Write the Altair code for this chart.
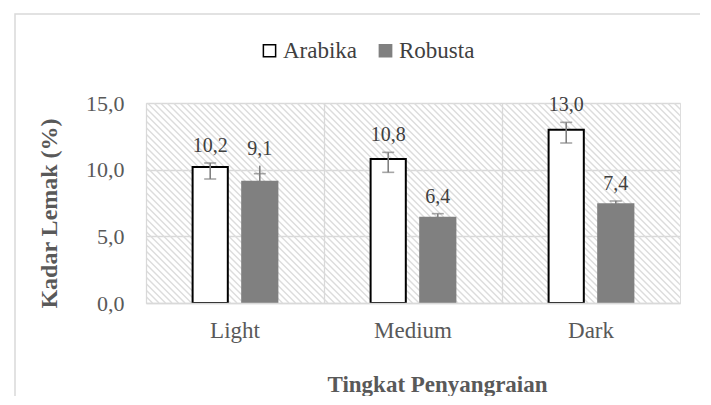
import altair as alt
import pandas as pd
import numpy as np

categories = ["Light", "Medium", "Dark"]
series = ["Arabika", "Robusta"]
arabika = [10.2, 10.8, 13.0]
robusta = [9.1, 6.4, 7.4]
arabika_err_low = [9.3, 9.8, 12.0]
arabika_err_high = [10.5, 11.3, 13.55]
robusta_err_low = [9.1, 6.4, 7.4]
robusta_err_high = [10.3, 6.7, 7.65]
arabika_caps = [[9.3, 10.5], [9.8, 11.3], [12.0, 13.55]]
robusta_caps = [[9.7], [6.7], [7.65]]

FONT = "'Liberation Serif', 'Times New Roman', Times, 'DejaVu Serif', serif"
GRID = "#d9d9d9"
GREY = "#808080"

rows = []
cap_rows = []
for i, c in enumerate(categories):
    rows.append(dict(cat=c, series="Arabika", value=arabika[i],
                     lo=arabika_err_low[i], hi=arabika_err_high[i]))
    rows.append(dict(cat=c, series="Robusta", value=robusta[i],
                     lo=robusta_err_low[i], hi=robusta_err_high[i]))
    for v in arabika_caps[i]:
        cap_rows.append(dict(cat=c, series="Arabika", cap=v))
    for v in robusta_caps[i]:
        cap_rows.append(dict(cat=c, series="Robusta", cap=v))
df = pd.DataFrame(rows)
df["label"] = df["value"].map(lambda v: f"{v:.1f}".replace(".", ","))
caps = pd.DataFrame(cap_rows)

# background hatch pattern (decoration, in plot-pixel units)
W, H = 534, 200
starts = np.arange(-H, W + 10, 6.5)
hatch = pd.DataFrame({"x1": starts, "x2": starts + H, "y1": H, "y2": 0})

hatch_layer = alt.Chart(hatch).mark_rule(clip=True, color="#dcdcdc", strokeWidth=1.4).encode(
    x=alt.X("x1:Q", scale=alt.Scale(domain=[0, W], nice=False, zero=False), axis=None),
    x2="x2:Q",
    y=alt.Y("y1:Q", scale=alt.Scale(domain=[0, H], nice=False, zero=False), axis=None),
    y2="y2:Q",
)

YT = "Kadar Lemak (%)"
XT = "Tingkat Penyangraian"

x_enc = alt.X(
    "cat:N", sort=categories, title=XT,
    scale=alt.Scale(paddingInner=0, paddingOuter=0),
    axis=alt.Axis(
        bandPosition=0, grid=True, gridColor=GRID, gridWidth=1.3,
        domain=True, domainColor=GRID, domainWidth=1.5, ticks=False,
        labelAngle=0, labelFont=FONT, labelFontSize=23, labelColor="#595959",
        labelPadding=16, titleFont=FONT, titleFontSize=23, titleFontWeight="bold",
        titleColor="#595959", titlePadding=31, titleX=291, zindex=1,
    ),
)
xo_enc = alt.XOffset("series:N", sort=series,
                     scale=alt.Scale(paddingInner=0.29, paddingOuter=0.94))
y_scale = alt.Scale(domain=[0, 15], nice=False, zero=True)
y_axis = alt.Axis(
    values=[0, 5, 10, 15],
    labelExpr="replace(format(datum.value, '.1f'), '.', ',')",
    grid=True, gridColor=GRID, gridWidth=1.3, domain=False, ticks=False,
    labelFont=FONT, labelFontSize=22, labelColor="#595959", labelPadding=22,
    titleFont=FONT, titleFontSize=24, titleFontWeight="bold", titleColor="#595959",
    titlePadding=24, titleY=110,
)

legend = alt.Legend(title=None, orient="none", legendX=112, legendY=-64,
                    direction="horizontal", symbolType="square",
                    symbolSize=150, symbolStrokeWidth=1.5,
                    labelFont=FONT, labelFontSize=23, labelColor="#404040",
                    columnPadding=16, labelOffset=2)

base = alt.Chart(df)

bars = base.mark_bar(strokeWidth=2).encode(
    x=x_enc, xOffset=xo_enc,
    y=alt.Y("value:Q", scale=y_scale, axis=y_axis, title=YT),
    fill=alt.Fill("series:N", sort=series,
                  scale=alt.Scale(domain=series, range=["#ffffff", GREY]),
                  legend=legend),
    stroke=alt.Stroke("series:N", sort=series,
                      scale=alt.Scale(domain=series, range=["#000000", GREY]),
                      legend=legend),
)

rules = base.mark_rule(color=GREY, strokeWidth=1.6).encode(
    x=x_enc, xOffset=xo_enc,
    y=alt.Y("lo:Q", scale=y_scale, title=YT),
    y2="hi:Q",
)

cap_ticks = alt.Chart(caps).mark_tick(color=GREY, size=12, thickness=1.6, orient="horizontal").encode(
    x=x_enc, xOffset=xo_enc,
    y=alt.Y("cap:Q", scale=y_scale, title=YT),
)

labels = base.mark_text(font=FONT, fontSize=20, color="#404040", baseline="bottom", dy=-7).encode(
    x=x_enc, xOffset=xo_enc,
    y=alt.Y("hi:Q", scale=y_scale, title=YT),
    text="label:N",
)

frame = alt.Chart(pd.DataFrame({"k": [0]})).mark_rect(
    fillOpacity=0, stroke=GRID, strokeWidth=1.5
).encode(
    x=alt.value(-131), x2=alt.value(560), y=alt.value(-89), y2=alt.value(330),
)

main = alt.layer(bars, rules, cap_ticks, labels, frame)

chart = alt.layer(hatch_layer, main).resolve_scale(
    x="independent", y="independent"
).properties(
    width=W, height=H,
    autosize=alt.AutoSizeParams(type="none"),
    padding={"left": 138, "top": 95, "right": 20, "bottom": 93},
).configure_view(stroke=GRID, strokeWidth=1.3).configure(background="white")

chart.save("out.html", embed_options={"renderer": "svg", "actions": False})
